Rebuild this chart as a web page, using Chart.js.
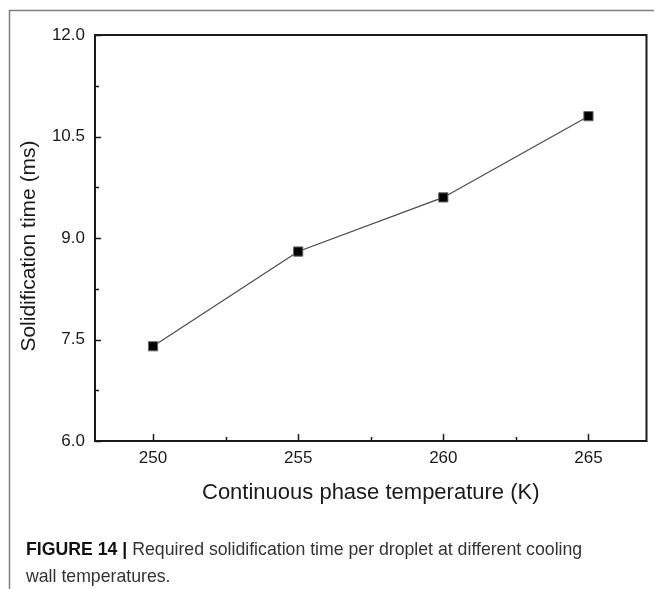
<!DOCTYPE html>
<html>
<head>
<meta charset="utf-8">
<title>Solidification time</title>
<script src="https://cdn.jsdelivr.net/npm/chart.js@4.4.1/dist/chart.umd.min.js"></script>
<style>
  html, body { margin: 0; padding: 0; background: #fff; }
  #wrap { position: relative; width: 654px; height: 589px; overflow: hidden; }
  #chart { position: absolute; left: 0; top: 0; }
  .caption {
    position: absolute; left: 26px; top: 536px; width: 620px;
    font-family: "Liberation Sans", Arial, sans-serif; font-size: 17.7px;
    line-height: 27px; color: #333;
  }
  .caption b { color: #111; }
</style>
</head>
<body>
<div id="wrap">
  <canvas id="chart" width="654" height="589"></canvas>
  <div class="caption"><b>FIGURE 14 |</b> Required solidification time per droplet at different cooling<br>wall temperatures.</div>
</div>
<script>
// Continuous phase temperature (K) vs solidification time (ms)
const temperatures = [250, 255, 260, 265];
const solidTimes = [7.4, 8.8, 9.6, 10.8];

const xTicks = [250, 255, 260, 265];
const xMinorTicks = [252.5, 257.5, 262.5];
const yTicks = [6.0, 7.5, 9.0, 10.5, 12.0];
const yMinorTicks = [6.75, 8.25, 9.75, 11.25];

const yTitle = 'Solidification time (ms)';

const FONT = '"Liberation Sans", Arial, sans-serif';
const INK = '#1a1a1a';

// page frame, plot box, inward tick marks and the y title
const framePlugin = {
  id: 'frame',
  beforeDraw(chart) {
    const ctx = chart.ctx;
    ctx.save();
    ctx.strokeStyle = '#808080';
    ctx.lineWidth = 1.5;
    ctx.beginPath();
    ctx.moveTo(9, 10.5);
    ctx.lineTo(654, 10.5);
    ctx.moveTo(9.5, 10);
    ctx.lineTo(9.5, 589);
    ctx.stroke();
    ctx.restore();
  },
  afterDraw(chart) {
    const ctx = chart.ctx;
    const a = chart.chartArea;
    const xs = chart.scales.x, ys = chart.scales.y;
    ctx.save();
    ctx.strokeStyle = INK;
    ctx.lineWidth = 2;
    ctx.strokeRect(a.left, a.top, a.right - a.left, a.bottom - a.top);
    ctx.lineWidth = 1.5;
    ctx.beginPath();
    xTicks.forEach(v => {
      const px = Math.round(xs.getPixelForValue(v)) + 0.5;
      ctx.moveTo(px, a.bottom); ctx.lineTo(px, a.bottom - 7);
    });
    xMinorTicks.forEach(v => {
      const px = Math.round(xs.getPixelForValue(v)) + 0.5;
      ctx.moveTo(px, a.bottom); ctx.lineTo(px, a.bottom - 4);
    });
    yTicks.forEach(v => {
      const py = Math.round(ys.getPixelForValue(v)) + 0.5;
      ctx.moveTo(a.left, py); ctx.lineTo(a.left + 6, py);
    });
    yMinorTicks.forEach(v => {
      const py = Math.round(ys.getPixelForValue(v)) + 0.5;
      ctx.moveTo(a.left, py); ctx.lineTo(a.left + 4, py);
    });
    ctx.stroke();

    // rotated y title, a little below the plot's middle
    ctx.translate(29, (a.top + a.bottom) / 2 + 8);
    ctx.rotate(-Math.PI / 2);
    ctx.fillStyle = INK;
    ctx.font = '21px ' + FONT;
    ctx.textAlign = 'center';
    ctx.textBaseline = 'middle';
    ctx.fillText(yTitle, 0, 0);
    ctx.restore();
  }
};

new Chart(document.getElementById('chart'), {
  type: 'line',
  data: {
    datasets: [{
      data: temperatures.map((t, i) => ({ x: t, y: solidTimes[i] })),
      borderColor: '#4a4a4a',
      borderWidth: 1.2,
      pointStyle: 'rect',
      pointRadius: 6.5,
      pointBackgroundColor: '#000',
      pointBorderColor: '#666',
      pointBorderWidth: 1,
      tension: 0
    }]
  },
  options: {
    responsive: false,
    animation: false,
    layout: { padding: { left: 0, top: 35, right: 6, bottom: 0 } },
    plugins: { legend: { display: false }, tooltip: { enabled: false } },
    scales: {
      x: {
        type: 'linear',
        min: 248,
        max: 267,
        afterBuildTicks: s => { s.ticks = xTicks.map(v => ({ value: v })); },
        afterFit: s => { s.height = 148; },
        grid: { display: false, drawTicks: false },
        border: { display: false },
        ticks: { padding: 7, color: INK, font: { family: FONT, size: 17 } },
        title: {
          display: true,
          text: 'Continuous phase temperature (K)',
          color: INK,
          font: { family: FONT, size: 22 },
          padding: { top: 0, bottom: 83 }
        }
      },
      y: {
        min: 6,
        max: 12,
        afterBuildTicks: s => { s.ticks = yTicks.map(v => ({ value: v })); },
        afterFit: s => { s.width = 95; },
        grid: { display: false, drawTicks: false },
        border: { display: false },
        ticks: {
          padding: 10, color: INK, font: { family: FONT, size: 17 },
          callback: v => Number(v).toFixed(1)
        },
        title: { display: false }
      }
    }
  },
  plugins: [framePlugin]
});
</script>
</body>
</html>
